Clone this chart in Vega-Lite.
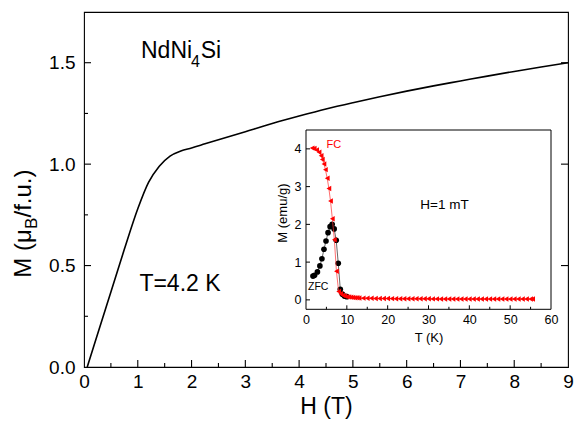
{
  "$schema": "https://vega.github.io/schema/vega-lite/v6.json",
  "width": 484,
  "height": 355,
  "autosize": {"type": "none"},
  "padding": {"left": 84, "top": 12, "right": 11, "bottom": 54},
  "background": "white",
  "config": {
    "view": {"stroke": "black", "strokeWidth": 1.1},
    "font": "Liberation Sans",
    "axis": {"grid": false, "ticks": false, "domain": false, "labelFlush": false, "labelColor": "black", "titleColor": "black", "labelFont": "Liberation Sans", "titleFont": "Liberation Sans", "titleFontWeight": "normal"}
  },
  "datasets": {
    "curve": [
      {"H": 0.06, "M": 0.0}, {"H": 0.25, "M": 0.16}, {"H": 0.5, "M": 0.37}, {"H": 0.75, "M": 0.58},
      {"H": 1.0, "M": 0.78}, {"H": 1.2, "M": 0.91}, {"H": 1.4, "M": 0.99}, {"H": 1.6, "M": 1.04},
      {"H": 1.8, "M": 1.065}, {"H": 2.0, "M": 1.08}, {"H": 2.25, "M": 1.1}, {"H": 2.5, "M": 1.12},
      {"H": 3.0, "M": 1.16}, {"H": 3.5, "M": 1.2}, {"H": 4.0, "M": 1.237}, {"H": 4.5, "M": 1.272},
      {"H": 5.0, "M": 1.303}, {"H": 5.5, "M": 1.332}, {"H": 6.0, "M": 1.36}, {"H": 6.5, "M": 1.386},
      {"H": 7.0, "M": 1.41}, {"H": 7.5, "M": 1.434}, {"H": 8.0, "M": 1.457}, {"H": 8.5, "M": 1.479}, {"H": 9.0, "M": 1.5}
    ],
    "hMajor": [{"H": 1}, {"H": 2}, {"H": 3}, {"H": 4}, {"H": 5}, {"H": 6}, {"H": 7}, {"H": 8}],
    "hMinor": [{"H": 0.5}, {"H": 1.5}, {"H": 2.5}, {"H": 3.5}, {"H": 4.5}, {"H": 5.5}, {"H": 6.5}, {"H": 7.5}, {"H": 8.5}],
    "mMajor": [{"M": 0.5}, {"M": 1.0}, {"M": 1.5}],
    "mMinor": [{"M": 0.25}, {"M": 0.75}, {"M": 1.25}],
    "tMajor": [{"T": 10}, {"T": 20}, {"T": 30}, {"T": 40}, {"T": 50}],
    "tMinor": [{"T": 5}, {"T": 15}, {"T": 25}, {"T": 35}, {"T": 45}, {"T": 55}],
    "eMajor": [{"M": 0}, {"M": 1}, {"M": 2}, {"M": 3}, {"M": 4}],
    "zfc": [
      {"T": 1.7, "M": 0.63}, {"T": 2.1, "M": 0.65}, {"T": 2.8, "M": 0.74}, {"T": 3.4, "M": 0.9},
      {"T": 3.9, "M": 1.09}, {"T": 4.4, "M": 1.34}, {"T": 4.9, "M": 1.56}, {"T": 5.4, "M": 1.78},
      {"T": 5.9, "M": 1.94}, {"T": 6.4, "M": 2.0}, {"T": 6.9, "M": 1.88}, {"T": 7.4, "M": 1.58},
      {"T": 7.9, "M": 0.97}, {"T": 8.4, "M": 0.28}, {"T": 8.9, "M": 0.15}, {"T": 9.4, "M": 0.1},
      {"T": 10, "M": 0.085}
    ],
    "fc": [
      {"T": 1.5, "M": 4.02}, {"T": 2.0, "M": 4.01}, {"T": 2.6, "M": 3.97}, {"T": 3.2, "M": 3.91},
      {"T": 3.7, "M": 3.82}, {"T": 4.0, "M": 3.72}, {"T": 4.4, "M": 3.6}, {"T": 4.75, "M": 3.45},
      {"T": 5.2, "M": 3.22}, {"T": 5.6, "M": 2.95}, {"T": 6.0, "M": 2.62}, {"T": 6.45, "M": 2.15},
      {"T": 6.95, "M": 1.59}, {"T": 7.45, "M": 0.76}, {"T": 8.0, "M": 0.22}, {"T": 8.5, "M": 0.16},
      {"T": 9.0, "M": 0.12}, {"T": 9.5, "M": 0.1}, {"T": 10, "M": 0.085}, {"T": 10.5, "M": 0.075},
      {"T": 11, "M": 0.068}, {"T": 11.5, "M": 0.062}, {"T": 12, "M": 0.057}, {"T": 12.5, "M": 0.053},
      {"T": 13, "M": 0.05}, {"T": 14, "M": 0.046}, {"T": 15, "M": 0.043}, {"T": 16, "M": 0.04},
      {"T": 17, "M": 0.038}, {"T": 18, "M": 0.036}, {"T": 19, "M": 0.035}, {"T": 20, "M": 0.034},
      {"T": 21, "M": 0.033}, {"T": 22, "M": 0.032}, {"T": 23, "M": 0.031}, {"T": 24, "M": 0.03},
      {"T": 25, "M": 0.03}, {"T": 26, "M": 0.029}, {"T": 27, "M": 0.028}, {"T": 28, "M": 0.028},
      {"T": 29, "M": 0.027}, {"T": 30, "M": 0.027}, {"T": 31, "M": 0.026}, {"T": 32, "M": 0.026},
      {"T": 33, "M": 0.025}, {"T": 34, "M": 0.025}, {"T": 35, "M": 0.025}, {"T": 36, "M": 0.024},
      {"T": 37, "M": 0.024}, {"T": 38, "M": 0.024}, {"T": 39, "M": 0.023}, {"T": 40, "M": 0.023},
      {"T": 41, "M": 0.023}, {"T": 42, "M": 0.022}, {"T": 43, "M": 0.022}, {"T": 44, "M": 0.022},
      {"T": 45, "M": 0.022}, {"T": 46, "M": 0.021}, {"T": 47, "M": 0.021}, {"T": 48, "M": 0.021},
      {"T": 49, "M": 0.021}, {"T": 50, "M": 0.02}, {"T": 51, "M": 0.02}, {"T": 52, "M": 0.02},
      {"T": 53, "M": 0.02}, {"T": 54, "M": 0.02}, {"T": 55, "M": 0.02}, {"T": 55.5, "M": 0.02}
    ],
    "mainText": [
      {"H": 1.06, "M": 1.522, "txt": "NdNi", "size": 23},
      {"H": 1.99, "M": 1.478, "txt": "4", "size": 16},
      {"H": 2.17, "M": 1.522, "txt": "Si", "size": 23},
      {"H": 1.03, "M": 0.375, "txt": "T=4.2 K", "size": 23}
    ],
    "ytitle": [
      {"H": -0.98, "M": 0.44, "txt": "M (μ", "size": 24},
      {"H": -0.875, "M": 0.68, "txt": "B", "size": 17},
      {"H": -0.98, "M": 0.737, "txt": "/f.u.)", "size": 24}
    ],
    "insetText": [
      {"T": 5.0, "M": 4.1, "txt": "FC", "color": "#ff0000", "size": 11},
      {"T": 0.5, "M": 0.33, "txt": "ZFC", "color": "#000000", "size": 10.5},
      {"T": 28, "M": 2.5, "txt": "H=1 mT", "color": "#000000", "size": 13.5}
    ],
    "frame": [{"t0": 0, "t1": 60, "m0": -0.25, "m1": 4.5}]
  },
  "layer": [
    {
      "layer": [
        {
          "data": {"name": "curve"},
          "mark": {"type": "line", "color": "black", "strokeWidth": 1.6, "interpolate": "monotone"},
          "encoding": {
            "x": {"field": "H", "type": "quantitative", "scale": {"domain": [0, 9], "nice": false, "zero": false},
              "axis": {"orient": "bottom", "values": [0,1,2,3,4,5,6,7,8,9], "format": "d", "labelPadding": 5, "labelFontSize": 19, "title": "H (T)", "titleFontSize": 23, "titlePadding": 4}},
            "y": {"field": "M", "type": "quantitative", "scale": {"domain": [0, 1.75], "nice": false, "zero": false},
              "axis": {"orient": "left", "values": [0, 0.5, 1.0, 1.5], "format": ".1f", "labelPadding": 9, "labelFontSize": 19, "title": null}}
          }
        },
        {
          "data": {"name": "hMajor"},
          "mark": {"type": "point", "shape": "M0,0L0,-2", "filled": false, "stroke": "black", "strokeWidth": 1.1, "size": 49, "opacity": 1},
          "encoding": {
            "x": {"field": "H", "type": "quantitative"},
            "y": {"datum": 0, "type": "quantitative"}
          }
        },
        {
          "data": {"name": "hMinor"},
          "mark": {"type": "point", "shape": "M0,0L0,-2", "filled": false, "stroke": "black", "strokeWidth": 1.1, "size": 16, "opacity": 1},
          "encoding": {
            "x": {"field": "H", "type": "quantitative"},
            "y": {"datum": 0, "type": "quantitative"}
          }
        },
        {
          "data": {"name": "mMajor"},
          "mark": {"type": "point", "shape": "M0,0L2,0", "filled": false, "stroke": "black", "strokeWidth": 1.1, "size": 49, "opacity": 1},
          "encoding": {
            "y": {"field": "M", "type": "quantitative"},
            "x": {"datum": 0, "type": "quantitative"}
          }
        },
        {
          "data": {"name": "mMinor"},
          "mark": {"type": "point", "shape": "M0,0L2,0", "filled": false, "stroke": "black", "strokeWidth": 1.1, "size": 16, "opacity": 1},
          "encoding": {
            "y": {"field": "M", "type": "quantitative"},
            "x": {"datum": 0, "type": "quantitative"}
          }
        },
        {
          "data": {"name": "mMajor"},
          "mark": {"type": "point", "shape": "M0,0L-2,0", "filled": false, "stroke": "black", "strokeWidth": 1.1, "size": 49, "opacity": 1},
          "encoding": {
            "y": {"field": "M", "type": "quantitative"},
            "x": {"datum": 9, "type": "quantitative"}
          }
        },
        {
          "data": {"name": "mainText"},
          "mark": {"type": "text", "align": "left", "baseline": "alphabetic", "color": "black"},
          "encoding": {
            "x": {"field": "H", "type": "quantitative"},
            "y": {"field": "M", "type": "quantitative"},
            "text": {"field": "txt"},
            "size": {"field": "size", "type": "quantitative", "scale": null}
          }
        },
        {
          "data": {"name": "ytitle"},
          "mark": {"type": "text", "align": "left", "baseline": "alphabetic", "angle": 270, "color": "black"},
          "encoding": {
            "x": {"field": "H", "type": "quantitative"},
            "y": {"field": "M", "type": "quantitative"},
            "text": {"field": "txt"},
            "size": {"field": "size", "type": "quantitative", "scale": null}
          }
        }
      ]
    },
    {
      "layer": [
        {
          "data": {"name": "frame"},
          "mark": {"type": "rect", "fill": "white", "stroke": "black", "strokeWidth": 1},
          "encoding": {
            "x": {"field": "t0", "type": "quantitative", "scale": {"domain": [0, 60], "range": [222, 467], "nice": false, "zero": false},
              "axis": {"orient": "bottom", "offset": -58, "values": [0,10,20,30,40,50,60], "format": "d", "labelPadding": 4, "labelFontSize": 12.5, "title": "T (K)", "titleFontSize": 13, "titlePadding": 6}},
            "x2": {"field": "t1"},
            "y": {"field": "m0", "type": "quantitative", "scale": {"domain": [-0.25, 4.5], "range": [297.3, 118], "nice": false, "zero": false},
              "axis": {"orient": "left", "offset": -222, "values": [0,1,2,3,4], "format": "d", "labelPadding": 5, "labelFontSize": 12.5, "title": null}},
            "y2": {"field": "m1"}
          }
        },
        {
          "data": {"name": "tMajor"},
          "mark": {"type": "point", "shape": "M0,0L0,-2", "filled": false, "stroke": "black", "strokeWidth": 1, "size": 16, "opacity": 1},
          "encoding": {
            "x": {"field": "T", "type": "quantitative"},
            "y": {"datum": -0.25, "type": "quantitative"}
          }
        },
        {
          "data": {"name": "tMinor"},
          "mark": {"type": "point", "shape": "M0,0L0,-2", "filled": false, "stroke": "black", "strokeWidth": 1, "size": 6.25, "opacity": 1},
          "encoding": {
            "x": {"field": "T", "type": "quantitative"},
            "y": {"datum": -0.25, "type": "quantitative"}
          }
        },
        {
          "data": {"name": "eMajor"},
          "mark": {"type": "point", "shape": "M0,0L2,0", "filled": false, "stroke": "black", "strokeWidth": 1, "size": 16, "opacity": 1},
          "encoding": {
            "y": {"field": "M", "type": "quantitative"},
            "x": {"datum": 0, "type": "quantitative"}
          }
        },
        {
          "data": {"name": "zfc"},
          "mark": {"type": "line", "color": "black", "strokeWidth": 0.6},
          "encoding": {
            "x": {"field": "T", "type": "quantitative"},
            "y": {"field": "M", "type": "quantitative"}
          }
        },
        {
          "data": {"name": "zfc"},
          "mark": {"type": "point", "shape": "circle", "filled": true, "color": "black", "size": 32, "opacity": 1},
          "encoding": {
            "x": {"field": "T", "type": "quantitative"},
            "y": {"field": "M", "type": "quantitative"}
          }
        },
        {
          "data": {"name": "fc"},
          "mark": {"type": "line", "color": "#ff3030", "strokeWidth": 0.7},
          "encoding": {
            "x": {"field": "T", "type": "quantitative"},
            "y": {"field": "M", "type": "quantitative"}
          }
        },
        {
          "data": {"name": "fc"},
          "mark": {"type": "point", "shape": "triangle-left", "filled": true, "color": "#ff0000", "size": 30, "opacity": 1},
          "encoding": {
            "x": {"field": "T", "type": "quantitative"},
            "y": {"field": "M", "type": "quantitative"}
          }
        },
        {
          "data": {"name": "insetText"},
          "mark": {"type": "text", "align": "left", "baseline": "middle"},
          "encoding": {
            "x": {"field": "T", "type": "quantitative"},
            "y": {"field": "M", "type": "quantitative"},
            "text": {"field": "txt"},
            "color": {"field": "color", "type": "nominal", "scale": null},
            "size": {"field": "size", "type": "quantitative", "scale": null}
          }
        },
        {
          "data": {"values": [{"T": -5.6, "M": 2.3, "txt": "M (emu/g)"}]},
          "mark": {"type": "text", "align": "center", "baseline": "middle", "angle": 270, "fontSize": 13, "color": "black"},
          "encoding": {
            "x": {"field": "T", "type": "quantitative"},
            "y": {"field": "M", "type": "quantitative"},
            "text": {"field": "txt"}
          }
        }
      ]
    }
  ],
  "resolve": {"scale": {"x": "independent", "y": "independent"}, "axis": {"x": "independent", "y": "independent"}}
}
